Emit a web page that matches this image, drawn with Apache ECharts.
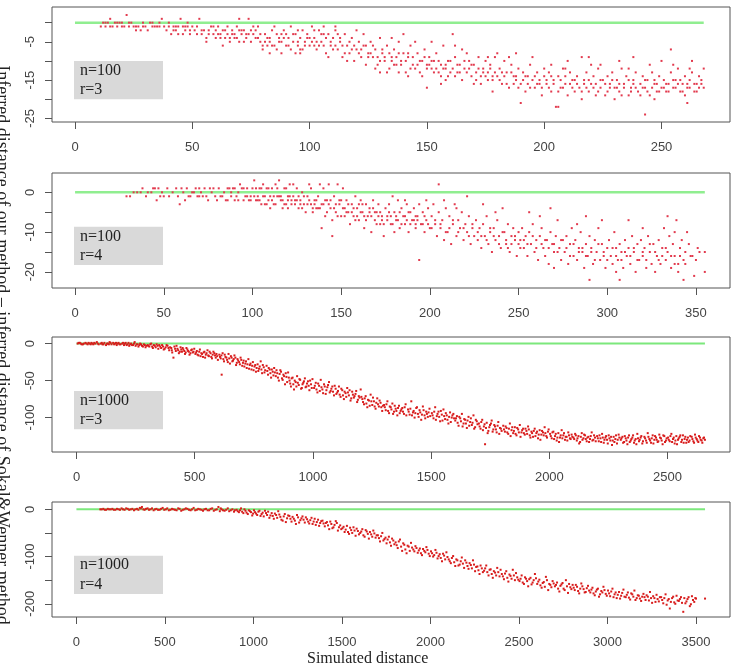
<!DOCTYPE html>
<html><head><meta charset="utf-8">
<script src="https://cdn.jsdelivr.net/npm/echarts@6/dist/echarts.min.js"></script>
<style>html,body{margin:0;padding:0;background:#fff}#c{width:735px;height:667px}</style>
</head><body><div id="c"></div>
<script>
// ---------- tick values ----------
const xTicks1 = [0, 50, 100, 150, 200, 250];
const xTicks2 = [0, 50, 100, 150, 200, 250, 300, 350];
const xTicks3 = [0, 500, 1000, 1500, 2000, 2500];
const xTicks4 = [0, 500, 1000, 1500, 2000, 2500, 3000, 3500];
const yTicks1 = [0, -5, -10, -15, -20, -25];
const yLabels1 = [-5, -15, -25];
const yTicks2 = [5, 0, -5, -10, -15, -20];
const yLabels2 = [5, 0, -10, -20];
const yTicks3 = [0, -50, -100];
const yLabels3 = [0, -50, -100];
const yTicks4 = [0, -50, -100, -150, -200];
const yLabels4 = [0, -100, -200];

// ---------- text ----------
const panelText = [['n=100', 'r=3'], ['n=100', 'r=4'], ['n=1000', 'r=3'], ['n=1000', 'r=4']];
const xTitle = 'Simulated distance';
const yTitle = 'Inferred distance of our method \u2013 inferred distance of Sokal&Wenner method';

// ---------- zero reference lines (x extent) ----------
const zero1 = [[0, 0], [268, 0]];
const zero2 = [[0, 0], [355, 0]];
const zero3 = [[0, 0], [2658, 0]];
const zero4 = [[0, 0], [3551, 0]];

// ---------- panel 1 : n=100, r=3 ----------
const pts1a = [
[11,-1],[12,0],[13,-1],[14,0],[15,1],[16,-1],[17,0],[18,-1],[19,0],[20,-1],[21,-1],[22,2],[23,-1],[24,0],[25,-1],[26,-2],[27,-1],[28,-2],[29,0],[30,-1],
[31,-2],[32,0],[33,-1],[34,-1],[35,-1],[36,0],[37,1],[38,-1],[39,-2],[40,-1],[41,-3],[42,-1],[43,-2],[44,-1],[45,1],[46,-3],[47,-2],[48,-1],[49,-2],[50,-1],[44,-3],[47,-1],[49,-3],[42,-2],
[51,-2],[52,-3],[53,1],[54,-3],[55,-2],[56,-4],[56,-5],[57,-2],[58,-1],[59,-3],[60,-2],[60,-4],[61,-1],[62,-3],[63,-6],[64,-2],[65,-3],[66,-4],[66,-5],[67,-2],[68,-3],[69,-1],[70,1],[70,-5],[71,-3],[72,-2],[73,-4],[74,1],[74,-3],[75,-2],[62,-4],[65,-1],[68,-4],[72,-5],
[76,-3],[77,-2],[78,-4],[79,-5],[80,-7],[80,-6],[81,-3],[82,-4],[83,-8],[83,-5],[84,-2],[85,-6],[86,-7],[86,-3],[87,-4],[88,-8],[88,-5],[89,-2],[90,-3],[90,-6],[91,-4],[92,-7],[93,-5],[94,-8],[94,-3],[95,-6],[96,-4],[97,-2],[97,-7],[98,-5],[99,-3],[100,-6],[100,-4],[78,-1],[85,-1],[92,-1],[96,-8],[82,-6],
[101,-1],[102,-4],[103,-7],[104,-2],[105,-5],[106,-1],[107,-8],[108,-3],[109,-6],[110,-4],[111,-2],[112,-7],[113,-5],[114,-9],[115,-3],[116,-6],[117,-8],[118,-4],[119,-10],[120,-7],[121,-5],[122,-9],[123,-3],[124,-6],[125,-8],[104,-6],[108,-9],[112,-3],[116,-10],[120,-2],[124,-11],
[126,-5],[127,-9],[128,-7],[129,-11],[130,-4],[131,-8],[132,-10],[133,-6],[134,-12],[135,-9],[136,-7],[137,-11],[138,-5],[139,-10],[140,-8],[141,-13],[142,-9],[143,-6],[144,-11],[145,-12],[146,-8],[147,-10],[148,-14],[149,-7],[150,-17],[150,-11],[130,-13],[135,-4],[140,-3],[145,-5],[128,-12],[142,-14],
[151,-9],[152,-12],[153,-10],[154,-8],[155,-13],[156,-11],[157,-6],[158,-12],[159,-14],[160,-10],[161,-3],[162,-9],[163,-13],[164,-11],[165,-15],[166,-12],[167,-8],[168,-10],[169,-14],[170,-11],[171,-13],[172,-9],[173,-16],[174,-12],[175,-10],[158,-15],[165,-7],[170,-16],[152,-5],[175,-14],
[176,-13],[177,-11],[178,-15],[179,-9],[180,-14],[181,-12],[182,-16],[183,-10],[184,-13],[185,-17],[186,-11],[187,-14],[188,-15],[189,-12],[190,-21],[190,-16],[191,-13],[192,-18],[193,-14],[194,-11],[195,-15],[196,-17],[197,-13],[198,-16],[199,-19],[200,-14],[180,-8],[185,-9],[195,-9],[200,-12],[178,-18],
[201,-16],[202,-13],[203,-18],[204,-15],[205,-22],[206,-22],[206,-14],[207,-17],[208,-12],[209,-16],[210,-19],[211,-13],[212,-15],[213,-18],[214,-14],[215,-17],[216,-9],[216,-20],[217,-15],[218,-13],[219,-18],[220,-16],[221,-14],[222,-19],[223,-12],[224,-17],[225,-15],[210,-10],[220,-11],[203,-11],
[226,-19],[227,-14],[228,-16],[229,-13],[230,-17],[231,-15],[232,-18],[233,-12],[234,-16],[235,-14],[236,-19],[237,-17],[238,-15],[239,-13],[240,-18],[241,-16],[242,-14],[243,-24],[243,-17],[244,-15],[245,-19],[246,-13],[247,-16],[248,-18],[249,-14],[250,-17],[232,-10],[238,-9],[245,-11],[230,-20],
[251,-15],[252,-18],[253,-16],[254,-7],[254,-13],[255,-17],[256,-15],[257,-12],[258,-18],[259,-16],[260,-14],[261,-21],[261,-17],[262,-15],[263,-13],[264,-18],[265,-16],[266,-14],[267,-15],[268,-17],[268,-12],[255,-11],[260,-19],[263,-10]
];
const pts1b = [
[13,0],[15,-1],[18,0],[20,0],[23,0],[26,-1],[29,-1],[33,0],[36,-1],[40,0],[43,-1],[46,-1],[48,0],
[52,-1],[54,-2],[57,-3],[59,-1],[61,-3],[63,-2],[64,-4],[67,-3],[69,-4],[71,-2],[73,-3],[75,-5],[77,-4],[79,-3],[81,-5],[83,-4],[84,-6],[87,-5],[89,-4],[91,-6],[93,-3],[95,-5],[96,-7],[98,-6],[99,-4],[70,-2],[76,-1],[88,-3],[95,-2],
[101,-5],[102,-6],[103,-5],[105,-3],[106,-6],[107,-4],[109,-5],[110,-7],[111,-6],[113,-4],[114,-6],[115,-8],[117,-5],[118,-7],[119,-6],[121,-8],[122,-7],[123,-6],[125,-9],[126,-8],[127,-6],[129,-9],[130,-10],[131,-7],[132,-9],[134,-8],[135,-10],[136,-11],[137,-9],[138,-8],[139,-11],[141,-10],[142,-8],[143,-12],[144,-9],[146,-11],[147,-13],[148,-10],[149,-9],[150,-12],[102,-2],[106,-3],[111,-1],[133,-13],[138,-13],
[151,-11],[152,-10],[153,-13],[154,-12],[155,-10],[156,-14],[157,-12],[158,-11],[159,-10],[160,-13],[161,-12],[162,-14],[163,-11],[164,-13],[166,-10],[167,-13],[168,-12],[169,-11],[171,-15],[172,-12],[173,-14],[174,-13],[176,-15],[177,-12],[178,-14],[179,-13],[181,-15],[182,-13],[183,-14],[184,-16],[186,-13],[187,-16],[188,-14],[189,-17],[191,-15],[192,-14],[193,-16],[194,-17],[196,-14],[197,-16],[198,-15],[199,-17],[162,-6],[176,-9],[188,-8],[156,-16],
[201,-15],[202,-17],[203,-14],[204,-16],[206,-18],[207,-15],[208,-17],[209,-14],[211,-16],[212,-17],[213,-15],[214,-16],[216,-18],[217,-16],[218,-17],[219,-15],[221,-17],[222,-16],[223,-18],[224,-15],[226,-16],[227,-18],[228,-17],[229,-15],[231,-17],[232,-16],[233,-19],[234,-17],[236,-15],[237,-18],[238,-16],[239,-17],[241,-19],[242,-17],[243,-15],[244,-18],[246,-17],[247,-15],[248,-16],[249,-18],[251,-17],[252,-16],[253,-18],[255,-15],[256,-17],[257,-16],[258,-15],[259,-18],[261,-16],[262,-17],[264,-16],[265,-18],[266,-17],[267,-16],[209,-12],[224,-11],[236,-12],[250,-10],[262,-12],[219,-9],[247,-20]
];

// ---------- panel 2 : n=100, r=4 ----------
const pts2a = [
[29,-1],[31,-1],[38,1],[41,0],[45,1],[46,-2],[47,1],[48,-1],[50,-1],[52,1],[55,0],[58,-1],[59,-3],[60,1],[35,0],[43,0],
[62,-2],[64,-1],[66,0],[68,1],[70,1],[72,-1],[73,1],[75,-2],[76,1],[78,1],[79,-1],[80,-2],[82,-1],[84,0],[85,-2],[87,1],[89,1],[90,-2],[91,-1],[92,-2],[93,2],[94,1],[95,-2],[96,-1],[97,1],[98,-2],[99,-1],[100,1],[70,-1],[88,-1],[86,-2],
[101,3],[102,-2],[103,-1],[104,1],[105,-3],[106,2],[107,-1],[108,1],[109,-2],[110,-4],[111,1],[112,-3],[113,2],[114,-1],[115,3],[116,-2],[117,-4],[118,1],[119,-3],[120,-4],[121,2],[122,-2],[123,-1],[124,-3],[125,1],[126,-4],[127,-2],[128,0],[129,-3],[130,-5],[104,-2],[110,-1],[115,-1],[120,-1],[125,-2],[108,-3],
[131,-1],[132,2],[133,-3],[134,-5],[135,-2],[136,-4],[137,-1],[138,2],[139,-9],[139,-3],[140,1],[141,-6],[142,-2],[143,2],[144,-4],[145,-11],[145,-7],[146,-1],[147,-5],[148,2],[149,-3],[150,-6],[151,1],[152,-4],[153,-2],[154,-5],[155,-8],[156,-3],[157,-6],[158,-1],[159,-4],[160,-7],[161,-2],[162,-5],[163,-9],[164,-3],[165,-6],[166,-4],[167,-10],[168,-2],[169,-7],[170,-5],[171,-3],[172,-8],[173,-6],[174,-11],[175,-4],[137,-4],[150,-2],[160,-3],[170,-8],
[176,-6],[177,-3],[178,-8],[179,-1],[180,-5],[181,-7],[182,-2],[183,-9],[184,-4],[185,-6],[186,-8],[187,-3],[188,-10],[189,-5],[190,-7],[191,-4],[192,-9],[193,-6],[194,-17],[194,-3],[195,-8],[196,-5],[197,-10],[198,-7],[199,-4],[200,-9],[180,-10],[186,-2],[192,-6],[198,-2],
[201,-6],[202,-3],[203,-8],[204,-11],[205,2],[205,-5],[206,-9],[207,-7],[208,-12],[209,-4],[210,-10],[211,-6],[212,-13],[213,-8],[214,-3],[215,-11],[216,-7],[217,-9],[218,-5],[219,-12],[220,-8],[221,-10],[222,-6],[223,-13],[224,-9],[225,-11],[208,-2],[215,-4],[221,-1],
[226,-7],[227,-12],[228,-9],[229,-14],[230,-8],[231,-11],[232,-6],[233,-13],[234,-10],[235,-15],[236,-9],[237,-12],[238,-7],[239,-11],[240,-14],[241,-4],[242,-10],[243,-13],[244,-8],[245,-15],[246,-11],[247,-9],[248,-12],[249,-16],[250,-10],[230,-3],[237,-5],[244,-14],[250,-13],
[251,-12],[252,-9],[253,-14],[254,-11],[255,-16],[256,-10],[257,-13],[258,-8],[259,-15],[260,-12],[261,-17],[262,-11],[263,-9],[264,-14],[265,-16],[266,-12],[267,-18],[268,-10],[269,-13],[270,-19],[270,-15],[271,-11],[272,-7],[273,-14],[274,-17],[275,-12],[256,-5],[262,-6],[268,-4],
[276,-15],[277,-11],[278,-18],[279,-13],[280,-9],[281,-16],[282,-12],[283,-17],[284,-14],[285,-10],[286,-15],[287,-19],[288,-13],[289,-16],[290,-22],[290,-11],[291,-14],[292,-18],[293,-12],[294,-15],[295,-9],[296,-17],[297,-13],[298,-16],[299,-19],[300,-14],[283,-8],[288,-6],[297,-7],
[301,-12],[302,-16],[303,-18],[304,-10],[305,-14],[306,-17],[307,-22],[307,-13],[308,-15],[309,-19],[310,-12],[311,-16],[312,-14],[313,-18],[314,-11],[315,-15],[316,-20],[317,-13],[318,-17],[319,-12],[320,-16],[321,-14],[322,-19],[323,-11],[324,-15],[325,-18],[312,-7],[320,-9],[305,-20],
[326,-13],[327,-20],[328,-16],[329,-12],[330,-18],[331,-14],[332,-9],[333,-17],[334,-15],[335,-11],[336,-19],[337,-13],[338,-16],[339,-7],[340,-20],[340,-18],[341,-14],[342,-12],[343,-22],[343,-17],[344,-15],[345,-10],[346,-13],[348,-16],[349,-21],[351,-14],[355,-15],[355,-20],[334,-6],[338,-10]
];
const pts2b = [
[33,0],[37,0],[40,-1],[44,1],[49,0],[53,-1],[57,1],[61,0],[63,1],[65,-1],[67,0],[69,-1],[71,0],[74,-1],[77,0],[81,1],[83,-1],[86,1],[88,0],[90,1],[92,0],[95,1],[97,-1],[99,-2],
[101,-1],[102,1],[103,-2],[105,1],[106,-1],[107,-3],[109,1],[111,-2],[112,-1],[113,-3],[114,1],[116,-1],[117,-2],[118,-3],[119,1],[120,-2],[121,-1],[122,-3],[123,2],[124,-2],[126,-1],[127,-3],[128,-4],[129,-1],[131,-3],[132,-2],[133,1],[134,-4],[135,-3],[136,-2],[138,-4],[140,-3],[141,-2],[142,-5],[143,-3],[144,-2],[146,-4],[147,-3],[148,-6],[149,-2],
[151,-4],[152,-6],[153,-5],[154,-3],[156,-5],[157,-4],[158,-7],[159,-6],[161,-5],[162,-3],[163,-6],[164,-7],[166,-5],[167,-6],[168,-4],[169,-5],[171,-6],[172,-5],[173,-7],[174,-8],[176,-7],[177,-5],[178,-6],[179,-8],[181,-6],[182,-7],[183,-5],[184,-8],[186,-6],[187,-7],[188,-5],[189,-8],[191,-7],[192,-8],[193,-7],[196,-8],[197,-6],[199,-8],
[201,-9],[203,-7],[206,-8],[209,-10],[211,-9],[213,-7],[216,-10],[219,-9],[222,-11],[224,-8],[227,-10],[229,-11],[232,-12],[234,-9],[236,-11],[239,-13],[241,-10],[243,-12],[246,-13],[248,-11],[251,-14],[253,-12],[255,-13],[258,-11],[260,-14],[263,-13],[265,-12],[267,-14],[270,-13],[272,-15],[274,-12],[277,-14],[279,-16],[281,-13],[284,-15],[286,-14],[288,-16],[291,-15],[293,-17],[295,-13],[298,-15],[300,-17],[303,-14],[305,-16],[308,-17],[310,-15],[313,-16],[315,-14],[317,-17],[320,-15],[322,-17],[324,-13],[327,-15],[329,-17],[331,-16],[333,-14],[336,-16],[338,-18],[341,-16],[344,-18],[347,-16],[350,-17],[352,-15]
];

// ---------- panel 3 : n=1000, r=3 ----------
const pts3a = [
[5,0],[14,1],[22,-1],[31,0],[38,1],[47,-1],[55,0],[63,1],[71,-1],[79,0],[86,2],[94,-1],
[103,0],[110,-1],[118,1],[125,-2],[133,0],[140,2],[148,-1],[155,1],[163,0],[170,-2],[178,1],[186,-1],[193,0],
[201,-2],[208,1],[216,-1],[223,-3],[231,0],[239,-2],[246,2],[254,-1],[262,-4],[269,0],[277,-3],[285,-1],[292,-5],
[301,-2],[308,-4],[316,0],[323,-6],[331,-3],[339,-1],[346,-7],[354,-4],[362,-2],[369,-8],[377,-5],[385,-3],[392,-9],
[401,-6],[405,-12],[410,-19],[414,-4],[420,-10],[427,-7],[433,-13],[440,-5],[446,-11],[452,-8],[459,-14],[465,-6],[472,-10],[478,-15],[485,-9],[492,-12],[498,-7],
[503,-14],[509,-10],[516,-16],[522,-8],[528,-13],[535,-18],[541,-11],[547,-15],[554,-9],[560,-17],[567,-13],[573,-20],[579,-11],[586,-16],[592,-14],[598,-22],
[604,-15],[610,-20],[614,-42],[618,-13],[624,-24],[630,-18],[637,-22],[643,-14],[649,-27],[656,-19],[662,-23],[668,-16],[675,-29],[681,-21],[688,-25],[694,-19],
[701,-30],[707,-23],[714,-27],[720,-33],[727,-21],[733,-29],[740,-35],[746,-25],[753,-31],[759,-38],[766,-28],[772,-34],[779,-24],[785,-40],[792,-32],[798,-36],
[804,-30],[810,-42],[817,-35],[823,-46],[830,-38],[836,-33],[843,-44],[849,-40],[856,-50],[862,-36],[869,-47],[875,-42],[882,-55],[888,-45],[895,-39],
[901,-50],[907,-58],[914,-46],[920,-62],[927,-52],[933,-44],[940,-56],[946,-49],[953,-60],[959,-53],[966,-47],[972,-58],[979,-51],[985,-63],[992,-55],[998,-48],
[1005,-60],[1012,-53],[1019,-66],[1026,-57],[1033,-49],[1040,-62],[1047,-55],[1054,-68],[1061,-59],[1068,-52],[1075,-64],[1082,-58],[1089,-70],[1096,-61],
[1103,-66],[1110,-58],[1117,-72],[1124,-63],[1131,-75],[1138,-67],[1145,-60],[1152,-70],[1159,-77],[1166,-65],[1173,-73],[1180,-68],[1187,-79],[1194,-71],
[1202,-62],[1209,-75],[1216,-82],[1223,-71],[1230,-86],[1237,-77],[1244,-69],[1251,-83],[1258,-78],[1265,-88],[1272,-74],[1279,-85],[1286,-80],[1293,-91],
[1301,-83],[1308,-90],[1315,-78],[1322,-94],[1329,-86],[1336,-81],[1343,-92],[1350,-88],[1357,-97],[1364,-84],[1371,-91],[1378,-87],[1385,-95],[1392,-82],
[1402,-89],[1409,-96],[1416,-78],[1423,-93],[1430,-100],[1437,-87],[1444,-95],[1451,-90],[1458,-103],[1465,-85],[1472,-97],[1479,-92],[1486,-99],[1493,-88],
[1503,-94],[1510,-101],[1517,-86],[1524,-98],[1531,-92],[1538,-105],[1545,-96],[1552,-89],[1559,-102],[1566,-97],[1573,-108],[1580,-93],[1587,-100],[1594,-95],
[1602,-104],[1609,-98],[1616,-111],[1623,-101],[1630,-95],[1637,-108],[1644,-103],[1651,-114],[1658,-99],[1665,-106],[1672,-110],[1679,-97],[1686,-113],[1693,-105],
[1702,-108],[1709,-115],[1716,-103],[1723,-112],[1728,-136],[1735,-107],[1742,-118],[1749,-110],[1756,-104],[1763,-116],[1770,-112],[1777,-120],[1784,-106],[1791,-114],[1798,-118],
[1805,-111],[1812,-119],[1819,-114],[1826,-122],[1833,-108],[1840,-117],[1847,-121],[1854,-113],[1861,-124],[1868,-116],[1875,-110],[1882,-120],[1889,-115],[1896,-123],
[1903,-118],[1910,-112],[1917,-124],[1924,-119],[1931,-126],[1938,-115],[1945,-121],[1952,-128],[1959,-117],[1966,-123],[1973,-120],[1980,-113],[1987,-125],[1994,-119],
[2003,-122],[2010,-128],[2017,-119],[2024,-125],[2031,-131],[2038,-121],[2045,-127],[2052,-117],[2059,-124],[2066,-130],[2073,-126],[2080,-120],[2087,-128],[2094,-123],
[2102,-127],[2109,-122],[2116,-131],[2123,-125],[2130,-133],[2137,-121],[2144,-128],[2151,-124],[2158,-132],[2165,-126],[2172,-129],[2179,-120],[2186,-130],[2193,-127],
[2202,-125],[2209,-132],[2216,-128],[2223,-122],[2230,-134],[2237,-127],[2244,-130],[2251,-124],[2258,-131],[2265,-137],[2272,-126],[2279,-129],[2286,-135],[2293,-123],
[2302,-130],[2309,-126],[2316,-133],[2323,-128],[2330,-136],[2337,-124],[2344,-131],[2351,-127],[2358,-134],[2365,-129],[2372,-122],[2379,-132],[2386,-127],[2393,-135],
[2402,-126],[2409,-131],[2416,-121],[2423,-129],[2430,-134],[2437,-124],[2444,-130],[2451,-127],[2458,-133],[2465,-123],[2472,-128],[2479,-136],[2486,-125],[2493,-131],
[2502,-127],[2509,-132],[2516,-122],[2523,-129],[2530,-135],[2537,-125],[2544,-130],[2551,-126],[2558,-133],[2565,-124],[2572,-129],[2579,-134],[2586,-127],[2593,-131],
[2602,-126],[2609,-132],[2616,-123],[2623,-129],[2630,-133],[2637,-127],[2644,-131],[2651,-128],[2658,-130]
];
const pts3b = [
[9,1],[18,0],[27,-1],[42,0],[51,1],[60,-1],[67,0],[75,1],[90,0],[107,1],[114,-1],[129,0],[137,-1],[144,1],[159,-1],[167,1],[174,0],[182,-1],[197,1],[205,0],[212,-2],[220,1],[227,-1],[235,-2],[243,0],[250,-3],[258,-1],[266,-2],[273,-1],[281,-4],[289,-2],[296,-3],
[304,-3],[312,-1],[320,-4],[327,-2],[335,-5],[343,-3],[350,-2],[358,-6],[366,-4],[373,-7],[381,-2],[389,-6],[396,-5],
[403,-9],[417,-7],[423,-3],[430,-9],[437,-11],[443,-8],[449,-6],[456,-10],[462,-12],[469,-8],[475,-11],[482,-13],[488,-8],[495,-11],
[506,-12],[512,-15],[519,-11],[525,-17],[531,-14],[538,-12],[544,-19],[550,-13],[557,-16],[563,-11],[570,-18],[576,-15],[583,-13],[589,-19],[595,-17],
[607,-18],[613,-16],[621,-21],[627,-15],[634,-19],[640,-25],[646,-20],[653,-17],[659,-24],[665,-21],[672,-19],[678,-26],[684,-23],[691,-28],[697,-22],
[704,-26],[710,-31],[717,-24],[723,-28],[730,-34],[736,-27],[743,-30],[749,-36],[756,-29],[762,-33],[769,-37],[775,-31],[782,-35],[788,-29],[795,-39],
[807,-37],[813,-33],[820,-40],[826,-35],[833,-43],[839,-39],[846,-36],[852,-46],[859,-41],[865,-38],[872,-49],[878,-44],[885,-40],[891,-52],[898,-46],
[904,-54],[910,-47],[917,-55],[923,-50],[930,-58],[936,-53],[943,-48],[950,-61],[956,-55],[962,-51],[969,-59],[975,-54],[982,-57],[988,-50],[995,-60],
[1008,-57],[1015,-62],[1022,-54],[1029,-64],[1036,-59],[1043,-67],[1050,-58],[1057,-63],[1064,-56],[1071,-66],[1078,-61],[1085,-65],[1092,-57],[1099,-68],
[1106,-64],[1113,-69],[1120,-61],[1127,-70],[1134,-65],[1141,-72],[1148,-66],[1155,-63],[1162,-74],[1169,-69],[1176,-71],[1183,-64],[1190,-76],[1197,-73],
[1205,-72],[1212,-79],[1219,-74],[1226,-81],[1233,-76],[1240,-84],[1247,-78],[1254,-73],[1261,-85],[1268,-80],[1275,-82],[1282,-77],[1289,-86],[1296,-84],
[1304,-86],[1311,-82],[1318,-91],[1325,-85],[1332,-89],[1339,-95],[1346,-84],[1353,-91],[1360,-87],[1367,-94],[1374,-89],[1381,-92],[1388,-86],[1395,-97],
[1405,-92],[1412,-88],[1419,-97],[1426,-91],[1433,-94],[1440,-86],[1447,-99],[1454,-93],[1461,-96],[1468,-90],[1475,-101],[1482,-95],[1489,-93],[1496,-98],
[1506,-97],[1513,-92],[1520,-103],[1527,-95],[1534,-99],[1541,-91],[1548,-104],[1555,-98],[1562,-94],[1569,-103],[1576,-99],[1583,-106],[1590,-97],[1597,-101],
[1605,-101],[1612,-107],[1619,-99],[1626,-105],[1633,-112],[1640,-102],[1647,-108],[1654,-104],[1661,-111],[1668,-101],[1675,-107],[1682,-115],[1689,-103],[1696,-109],
[1705,-112],[1712,-106],[1719,-117],[1726,-109],[1732,-114],[1739,-121],[1746,-113],[1753,-108],[1760,-119],[1767,-110],[1774,-116],[1781,-111],[1788,-122],[1795,-115],
[1808,-116],[1815,-112],[1822,-120],[1829,-115],[1836,-125],[1843,-113],[1850,-118],[1857,-122],[1864,-114],[1871,-120],[1878,-126],[1885,-117],[1892,-121],[1899,-115],
[1906,-122],[1913,-116],[1920,-127],[1927,-121],[1934,-118],[1941,-125],[1948,-119],[1955,-123],[1962,-130],[1969,-118],[1976,-124],[1983,-121],[1990,-127],[1997,-116],
[2006,-125],[2013,-120],[2020,-129],[2027,-122],[2034,-127],[2041,-133],[2048,-124],[2055,-128],[2062,-121],[2069,-126],[2076,-131],[2083,-124],[2090,-129],[2097,-126],
[2105,-129],[2112,-124],[2119,-128],[2126,-135],[2133,-126],[2140,-130],[2147,-123],[2154,-129],[2161,-127],[2168,-133],[2175,-125],[2182,-131],[2189,-124],[2196,-132],
[2205,-128],[2212,-124],[2219,-133],[2226,-127],[2233,-130],[2240,-125],[2247,-135],[2254,-128],[2261,-126],[2268,-131],[2275,-133],[2282,-124],[2289,-130],[2296,-127],
[2305,-128],[2312,-134],[2319,-125],[2326,-131],[2333,-127],[2340,-133],[2347,-129],[2354,-124],[2361,-131],[2368,-136],[2375,-128],[2382,-130],[2389,-125],[2396,-132],
[2405,-128],[2412,-134],[2419,-126],[2426,-131],[2433,-128],[2440,-135],[2447,-125],[2454,-130],[2461,-132],[2468,-127],[2475,-131],[2482,-124],[2489,-133],[2496,-128],
[2505,-130],[2512,-125],[2519,-133],[2526,-127],[2533,-131],[2540,-136],[2547,-128],[2554,-124],[2561,-130],[2568,-134],[2575,-126],[2582,-130],[2589,-133],[2596,-125],
[2605,-129],[2612,-134],[2619,-127],[2626,-131],[2633,-125],[2640,-130],[2647,-134],[2654,-127]
];

// ---------- panel 4 : n=1000, r=4 ----------
const pts4a = [
[135,0],[152,1],[168,-1],[185,0],[203,1],[220,-1],[238,0],[255,2],[272,-1],[290,1],[307,0],[325,-2],[342,1],[358,3],[370,5],[385,-1],[402,2],[418,0],[436,-2],[452,1],[470,-1],[487,3],[505,0],[522,-2],[540,1],[557,-1],[575,2],[592,-3],[610,0],[627,1],[645,-2],[662,3],[680,-1],[697,0],[715,-3],[732,1],[750,-2],[767,2],[785,-1],[802,5],[810,-4],[820,0],[837,-3],[855,2],[872,-2],[890,-5],
[905,-1],[918,-6],[930,2],[943,-8],[955,-3],[968,-10],[980,-4],[993,-13],
[1003,-2],[1015,-9],[1028,-5],[1040,-14],[1052,-7],[1065,-3],[1077,-12],[1090,-18],
[1103,-8],[1115,-20],[1128,-12],[1140,-4],[1152,-16],[1165,-24],[1177,-10],[1190,-19],
[1203,-14],[1215,-26],[1228,-20],[1240,-31],[1252,-17],[1265,-23],[1277,-15],[1290,-28],
[1303,-21],[1315,-30],[1328,-18],[1340,-26],[1352,-33],[1365,-22],[1377,-29],[1390,-24],
[1403,-36],[1415,-27],[1428,-42],[1440,-31],[1452,-38],[1465,-25],[1477,-45],[1490,-34],
[1503,-40],[1515,-48],[1528,-35],[1540,-52],[1552,-44],[1565,-38],[1577,-56],[1590,-46],
[1603,-50],[1615,-42],[1628,-58],[1640,-47],[1652,-62],[1665,-53],[1677,-45],[1690,-60],
[1703,-55],[1715,-68],[1728,-50],[1740,-63],[1752,-72],[1765,-58],[1777,-77],[1790,-66],
[1803,-70],[1815,-82],[1828,-64],[1840,-88],[1852,-75],[1865,-93],[1877,-79],[1890,-71],
[1903,-85],[1915,-78],[1928,-92],[1940,-83],[1952,-97],[1965,-88],[1977,-80],[1990,-94],
[2003,-89],[2015,-100],[2028,-86],[2040,-104],[2052,-95],[2065,-110],[2077,-98],[2090,-91],
[2103,-106],[2115,-114],[2128,-99],[2140,-120],[2152,-108],[2165,-117],[2177,-102],[2190,-124],
[2203,-113],[2215,-126],[2228,-118],[2240,-108],[2252,-131],[2265,-121],[2277,-137],[2290,-125],
[2303,-130],[2315,-119],[2328,-140],[2340,-127],[2352,-145],[2365,-134],[2377,-124],[2390,-142],
[2403,-137],[2415,-148],[2428,-131],[2440,-153],[2452,-141],[2465,-128],[2477,-150],[2490,-144],
[2503,-152],[2515,-140],[2528,-158],[2540,-147],[2552,-163],[2565,-145],[2577,-155],[2590,-137],
[2603,-158],[2615,-149],[2628,-166],[2640,-154],[2652,-143],[2665,-171],[2677,-160],[2690,-152],
[2703,-163],[2715,-155],[2728,-174],[2740,-159],[2752,-168],[2765,-150],[2777,-177],[2790,-165],
[2803,-160],[2815,-171],[2828,-164],[2840,-178],[2852,-157],[2865,-169],[2877,-175],[2890,-162],
[2903,-176],[2915,-166],[2928,-182],[2940,-170],[2952,-185],[2965,-173],[2977,-164],[2990,-179],
[3003,-172],[3015,-184],[3028,-168],[3040,-180],[3052,-188],[3065,-175],[3077,-183],[3090,-170],
[3103,-186],[3115,-176],[3128,-191],[3140,-180],[3152,-172],[3165,-188],[3177,-183],[3190,-194],
[3203,-179],[3215,-192],[3228,-185],[3240,-175],[3252,-198],[3265,-188],[3277,-181],[3290,-195],
[3303,-186],[3315,-199],[3328,-180],[3340,-193],[3352,-210],[3365,-188],[3377,-197],[3390,-183],
[3403,-194],[3415,-186],[3428,-217],[3440,-199],[3452,-190],[3465,-205],[3477,-184],[3490,-196],[3500,-189],[3551,-189]
];
const pts4b = [
[143,0],[160,-1],[177,1],[194,0],[211,-1],[229,1],[246,-1],[263,0],[281,2],[298,-1],[316,1],[333,0],[350,-1],[364,2],[378,0],[393,1],[410,-1],[427,2],[444,0],[461,-1],[478,1],[496,-1],[513,2],[531,-1],[548,0],[566,-2],[583,1],[601,-1],[618,2],[636,-1],[653,0],[671,-2],[688,1],[706,-1],[723,0],[741,-2],[758,1],[776,-3],[793,0],[815,2],[828,-2],[846,-1],[863,-4],[881,0],[895,-2],
[911,-4],[924,-2],[936,-5],[949,0],[961,-7],[974,-2],[986,-6],[998,-9],
[1009,-6],[1021,-12],[1034,-3],[1046,-10],[1058,-15],[1071,-8],[1083,-5],[1096,-13],
[1109,-14],[1121,-9],[1134,-18],[1146,-11],[1158,-22],[1171,-15],[1183,-27],[1196,-13],
[1209,-20],[1221,-16],[1234,-24],[1246,-12],[1258,-28],[1271,-19],[1283,-22],[1296,-17],
[1309,-26],[1321,-23],[1334,-31],[1346,-20],[1358,-27],[1371,-35],[1383,-25],[1396,-30],
[1409,-29],[1421,-34],[1434,-26],[1446,-40],[1458,-33],[1471,-29],[1483,-38],[1496,-42],
[1509,-37],[1521,-43],[1534,-48],[1546,-39],[1558,-50],[1571,-45],[1583,-41],[1596,-53],
[1609,-47],[1621,-55],[1634,-44],[1646,-52],[1658,-48],[1671,-58],[1683,-51],[1696,-55],
[1709,-61],[1721,-57],[1734,-66],[1746,-60],[1758,-64],[1771,-70],[1783,-62],[1796,-74],
[1809,-76],[1821,-68],[1834,-79],[1846,-72],[1858,-85],[1871,-77],[1883,-88],[1896,-81],
[1909,-89],[1921,-82],[1934,-87],[1946,-93],[1958,-84],[1971,-91],[1983,-86],[1996,-99],
[2009,-93],[2021,-97],[2034,-92],[2046,-99],[2058,-103],[2071,-94],[2083,-106],[2096,-101],
[2109,-110],[2121,-103],[2134,-112],[2146,-106],[2158,-119],[2171,-110],[2183,-115],[2196,-108],
[2209,-120],[2221,-114],[2234,-125],[2246,-117],[2258,-122],[2271,-129],[2283,-119],[2296,-133],
[2309,-125],[2321,-133],[2334,-128],[2346,-137],[2358,-131],[2371,-140],[2383,-133],[2396,-128],
[2409,-142],[2421,-136],[2434,-145],[2446,-138],[2458,-147],[2471,-140],[2483,-135],[2496,-149],
[2509,-147],[2521,-155],[2534,-144],[2546,-152],[2558,-148],[2571,-159],[2583,-150],[2596,-146],
[2609,-153],[2621,-161],[2634,-156],[2646,-164],[2658,-150],[2671,-158],[2683,-165],[2696,-157],
[2709,-160],[2721,-168],[2734,-162],[2746,-156],[2758,-171],[2771,-163],[2783,-158],[2796,-169],
[2809,-166],[2821,-160],[2834,-173],[2846,-168],[2858,-163],[2871,-176],[2883,-167],[2896,-172],
[2909,-170],[2921,-178],[2934,-174],[2946,-168],[2958,-180],[2971,-176],[2983,-171],[2996,-183],
[3009,-178],[3021,-174],[3034,-186],[3046,-176],[3058,-181],[3071,-189],[3083,-177],[3096,-185],
[3109,-181],[3121,-187],[3134,-178],[3146,-185],[3158,-192],[3171,-182],[3183,-189],[3196,-185],
[3209,-186],[3221,-182],[3234,-193],[3246,-188],[3258,-184],[3271,-196],[3283,-190],[3296,-186],
[3309,-192],[3321,-188],[3334,-202],[3346,-190],[3358,-196],[3371,-185],[3383,-200],[3396,-193],
[3409,-190],[3421,-198],[3434,-188],[3446,-195],[3458,-186],[3471,-201],[3483,-192],[3496,-188]
];

// ---------- layout / styling ----------
const panels = [
  {top: 7,   xr: [-9.8, 279.2], yr: [-25.96, 4.09], xt: xTicks1, yt: yTicks1, yl: yLabels1, pts: pts1a.concat(pts1b), zero: zero1, dot: '#e23a4e', ds: 2, green: '#90ee90', gw: 2.5, box: [61, 99.3], txt: [70.7, 90]},
  {top: 173, xr: [-13, 369.2], yr: [-24.04, 4.85], xt: xTicks2, yt: yTicks2, yl: yLabels2, pts: pts2a.concat(pts2b), zero: zero2, dot: '#e23a4e', ds: 2, green: '#90ee90', gw: 2.5, box: [226.7, 265], txt: [236.7, 255.7]},
  {top: 337, xr: [-103.6, 2764], yr: [-146.5, 8.9], xt: xTicks3, yt: yTicks3, yl: yLabels3, pts: pts3a.concat(pts3b), zero: zero3, dot: '#d81c1c', ds: 2, green: '#7ce87c', gw: 2, box: [391, 429.3], txt: [400.7, 420]},
  {top: 502, xr: [-138, 3692], yr: [-228, 15.5], xt: xTicks4, yt: yTicks4, yl: yLabels4, pts: pts4a.concat(pts4b), zero: zero4, dot: '#d81c1c', ds: 2, green: '#7ce87c', gw: 2, box: [555.7, 594], txt: [565, 585]}
];

const fmt = v => String(v);
const grids = [], xAxes = [], yAxes = [], series = [], graphics = [];
panels.forEach((p, i) => {
  grids.push({left: 52, top: p.top, width: 678, height: 115, show: true, borderColor: '#555', borderWidth: 1, backgroundColor: 'transparent'});
  xAxes.push({
    gridIndex: i, type: 'value', min: p.xr[0], max: p.xr[1], position: 'bottom',
    axisLine: {show: false, onZero: false},
    axisTick: {show: true, length: 7, lineStyle: {color: '#555', width: 1}, customValues: p.xt},
    axisLabel: {customValues: p.xt, formatter: fmt, fontSize: 13, color: '#444', margin: 19, fontFamily: 'Liberation Sans, Arial, sans-serif'},
    splitLine: {show: false}
  });
  yAxes.push({
    gridIndex: i, type: 'value', min: p.yr[0], max: p.yr[1], position: 'left',
    axisLine: {show: false, onZero: false},
    axisTick: {show: true, length: 7, lineStyle: {color: '#555', width: 1}, customValues: p.yt},
    axisLabel: {customValues: p.yl, formatter: fmt, rotate: 90, fontSize: 13, color: '#444', margin: 15, fontFamily: 'Liberation Sans, Arial, sans-serif'},
    splitLine: {show: false}
  });
  series.push({type: 'line', xAxisIndex: i, yAxisIndex: i, data: p.zero, symbol: 'none', silent: true, z: 1,
    lineStyle: {color: p.green, width: p.gw}});
  series.push({type: 'scatter', xAxisIndex: i, yAxisIndex: i, data: p.pts, symbol: 'rect', symbolSize: p.ds, silent: true, z: 2,
    itemStyle: {color: p.dot, opacity: 1}});
  graphics.push({type: 'rect', left: 74, top: p.box[0], shape: {width: 89, height: p.box[1] - p.box[0]}, style: {fill: '#d9d9d9'}, z: 10});
  graphics.push({type: 'text', x: 80, y: p.txt[0], style: {text: panelText[i][0], font: '16px "Liberation Serif", "Times New Roman", serif', fill: '#222', textVerticalAlign: 'middle'}, z: 11});
  graphics.push({type: 'text', x: 80, y: p.txt[1], style: {text: panelText[i][1], font: '16px "Liberation Serif", "Times New Roman", serif', fill: '#222', textVerticalAlign: 'middle'}, z: 11});
});
graphics.push({type: 'text', x: 307, y: 659, style: {text: xTitle, font: '16px "Liberation Serif", "Times New Roman", serif', fill: '#222', textVerticalAlign: 'middle'}, z: 11});
graphics.push({type: 'text', x: 2, y: 345, rotation: -Math.PI / 2, style: {text: yTitle, font: '18px "Liberation Serif", "Times New Roman", serif', fill: '#222', textAlign: 'center', textVerticalAlign: 'middle'}, z: 11});

const chart = echarts.init(document.getElementById('c'), null, {renderer: 'canvas'});
chart.setOption({
  animation: false,
  backgroundColor: '#fff',
  grid: grids, xAxis: xAxes, yAxis: yAxes, series: series, graphic: graphics,
  tooltip: {show: false}, legend: {show: false}
});
</script>
</body></html>
